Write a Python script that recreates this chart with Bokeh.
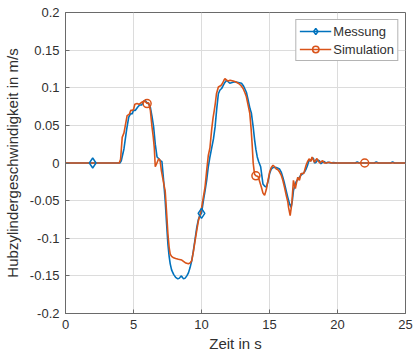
from bokeh.plotting import figure
from bokeh.models import (ColumnDataSource, FixedTicker, CustomJSTickFormatter,
                          Legend, LegendItem, Range1d)
from bokeh.embed import file_html
from bokeh.resources import INLINE

# ---------------- data ----------------
t_mess = [0, 4.0, 4.1, 4.3, 4.5, 4.65, 4.8, 4.9, 5.0, 5.14, 5.3, 5.45, 5.6, 5.75, 5.85, 5.95,
          6.1, 6.24, 6.36, 6.48, 6.6, 6.73, 6.85, 6.97, 7.09, 7.2, 7.33, 7.43, 7.53, 7.62, 7.7,
          7.8, 7.95, 8.1, 8.26, 8.38, 8.5, 8.6, 8.68, 8.8, 8.92, 9.04, 9.16, 9.28, 9.4, 9.52,
          9.65, 9.77, 9.89, 10.0, 10.14, 10.26, 10.38, 10.5, 10.62, 10.75, 10.88, 11.0, 11.12,
          11.24, 11.36, 11.48, 11.6, 11.72, 11.84, 11.96, 12.08, 12.25, 12.45, 12.7, 12.94,
          13.1, 13.3, 13.45, 13.57, 13.67, 13.8, 13.91, 14.0, 14.1, 14.2, 14.35, 14.52, 14.65,
          14.77, 14.9, 15.01, 15.13, 15.26, 15.5, 15.74, 15.86, 15.98, 16.1, 16.23, 16.35,
          16.47, 16.59, 16.68, 16.76, 16.86, 16.96, 17.08, 17.2, 17.32, 17.45, 17.57, 17.69,
          17.78, 17.86, 17.95, 18.05, 18.14, 18.23, 18.32, 18.42, 18.54, 18.66, 18.78, 18.91,
          19.03, 19.15, 19.3, 19.5, 19.7, 20.0, 21.3, 21.45, 21.6, 22.7, 22.85, 23.0, 23.9,
          24.05, 24.2, 25.0]
v_mess = [0, 0, 0.003, 0.019, 0.045, 0.061, 0.066, 0.065, 0.07, 0.07, 0.074, 0.077, 0.077,
          0.082, 0.083, 0.081, 0.079, 0.074, 0.062, 0.048, 0.025, 0.008, 0.006, 0.003, 0.002,
          -0.02, -0.05, -0.08, -0.108, -0.124, -0.134, -0.142, -0.148, -0.152, -0.154, -0.153,
          -0.15, -0.152, -0.154, -0.153, -0.15, -0.146, -0.139, -0.13, -0.117, -0.102, -0.086,
          -0.075, -0.069, -0.067, -0.05, -0.037, -0.023, -0.005, 0.008, 0.02, 0.032, 0.048,
          0.072, 0.092, 0.097, 0.099, 0.103, 0.107, 0.11, 0.108, 0.106, 0.107, 0.108, 0.107,
          0.106, 0.102, 0.094, 0.082, 0.072, 0.066, 0.048, 0.03, 0.018, 0.008, 0.002, -0.005,
          -0.028, -0.031, -0.032, -0.024, -0.014, -0.008, -0.006, -0.006, -0.008, -0.012,
          -0.019, -0.027, -0.037, -0.046, -0.054, -0.059, -0.05, -0.037, -0.03, -0.025, -0.022,
          -0.019, -0.016, -0.014, -0.012, -0.008, -0.004, 0.001, 0.004, 0.003, 0.007, 0.006,
          0.0, 0.001, 0.004, 0.003, -0.001, 0.001, 0.002, 0.0, 0.001, 0.0, 0.0005, 0.0, 0.0,
          0.0015, 0.0, 0.0, 0.0015, 0.0, 0.0, 0.0015, 0.0, 0.0]

t_sim = [0, 3.95, 4.05, 4.17, 4.3, 4.45, 4.53, 4.7, 4.8, 4.9, 5.0, 5.1, 5.26, 5.4, 5.55, 5.75,
         5.9, 6.0, 6.12, 6.24, 6.36, 6.45, 6.53, 6.6, 6.7, 6.85, 6.95, 7.05, 7.15, 7.25, 7.33,
         7.43, 7.53, 7.62, 7.7, 7.8, 7.95, 8.1, 8.3, 8.55, 8.7, 8.85, 9.04, 9.16, 9.28, 9.4,
         9.53, 9.65, 9.77, 9.9, 10.01, 10.13, 10.26, 10.38, 10.5, 10.62, 10.75, 10.85, 10.94,
         11.02, 11.1, 11.24, 11.43, 11.55, 11.65, 11.72, 11.85, 11.97, 12.1, 12.33, 12.5, 12.7,
         12.9, 13.06, 13.2, 13.3, 13.45, 13.55, 13.65, 13.72, 13.8, 13.9, 14.0, 14.16, 14.28,
         14.4, 14.52, 14.64, 14.77, 14.89, 15.01, 15.13, 15.26, 15.38, 15.5, 15.62, 15.74,
         15.86, 15.98, 16.1, 16.23, 16.35, 16.4, 16.52, 16.64, 16.76, 16.9, 17.0, 17.08, 17.2,
         17.32, 17.52, 17.69, 17.8, 17.93, 18.03, 18.13, 18.22, 18.3, 18.4, 18.49, 18.6, 18.71,
         18.81, 18.91, 19.03, 19.15, 19.4, 19.6, 25.0]
v_sim = [0, 0, 0.005, 0.034, 0.04, 0.055, 0.063, 0.065, 0.07, 0.07, 0.071, 0.078, 0.079,
         0.078, 0.08, 0.082, 0.081, 0.079, 0.08, 0.07, 0.048, 0.035, 0.02, -0.005, -0.001,
         0.0056, 0.004, -0.01, -0.02, -0.03, -0.037, -0.065, -0.094, -0.112, -0.121, -0.124,
         -0.126, -0.127, -0.128, -0.129, -0.131, -0.133, -0.134, -0.133, -0.13, -0.118, -0.103,
         -0.09, -0.077, -0.068, -0.059, -0.046, -0.032, -0.01, 0.01, 0.02, 0.045, 0.06, 0.07,
         0.08, 0.092, 0.101, 0.103, 0.106, 0.11, 0.112, 0.11, 0.109, 0.11, 0.109, 0.108, 0.106,
         0.103, 0.099, 0.093, 0.088, 0.075, 0.066, 0.045, 0.026, 0.0, -0.015, -0.017, -0.018,
         -0.025, -0.032, -0.04, -0.043, -0.035, -0.023, -0.012, -0.006, -0.003, -0.005, -0.008,
         -0.009, -0.012, -0.016, -0.023, -0.032, -0.043, -0.052, -0.059, -0.07, -0.054, -0.023,
         -0.034, -0.025, -0.019, -0.023, -0.014, -0.014, -0.003, 0.002, 0.0056, 0.002, 0.008,
         0.004, 0.001, 0.004, 0.006, 0.002, 0.0, 0.002, 0.003, 0.0, 0.0, 0.001, 0.0, 0.0]

t_mark_mess = [2, 10]
v_mark_mess = [0, -0.067]
t_mark_sim = [6, 14, 22]
v_mark_sim = [0.079, -0.017, 0]

x_ticks = [0, 5, 10, 15, 20, 25]
y_ticks = [-0.2, -0.15, -0.1, -0.05, 0, 0.05, 0.1, 0.15, 0.2]
x_label = "Zeit in s"
y_label = "Hubzylindergeschwindigkeit in m/s"
series_names = ["Messung", "Simulation"]

# ---------------- styling ----------------
BLUE = "#0072BD"
ORANGE = "#D95319"
TXT = "#303030"
AXC = "#6a6a6a"
FONT = "Liberation Sans"

p = figure(width=415, height=354, output_backend="svg", toolbar_location=None,
           x_range=Range1d(0, 25), y_range=Range1d(-0.2, 0.2),
           min_border_left=63, min_border_right=10, min_border_top=12, min_border_bottom=41)
p.background_fill_color = "white"
p.border_fill_color = "white"
p.outline_line_color = AXC
p.outline_line_width = 1

for ax in (p.xaxis[0], p.yaxis[0]):
    ax.axis_line_color = AXC
    ax.major_tick_line_color = AXC
    ax.major_tick_in = 4
    ax.major_tick_out = 0
    ax.minor_tick_line_color = None
    ax.major_label_text_font = FONT
    ax.major_label_text_font_size = "13px"
    ax.major_label_text_color = TXT
    ax.axis_label_text_font = FONT
    ax.axis_label_text_font_size = "15px"
    ax.axis_label_text_font_style = "normal"
    ax.axis_label_text_color = TXT

p.xaxis.ticker = FixedTicker(ticks=x_ticks)
p.yaxis.ticker = FixedTicker(ticks=y_ticks)
p.xaxis.formatter = CustomJSTickFormatter(code="return String(Number(tick.toFixed(2)));")
p.yaxis.formatter = CustomJSTickFormatter(code="return String(Number(tick.toFixed(2)));")
p.xaxis.major_label_standoff = 6
p.yaxis.major_label_standoff = 6
p.xaxis.axis_label_standoff = 3
p.yaxis.axis_label_standoff = 6
p.xaxis.axis_label = x_label
p.yaxis.axis_label = y_label

p.grid.grid_line_color = "#dcdcdc"
p.grid.grid_line_width = 1

src_m = ColumnDataSource(dict(t=t_mess, v=v_mess))
src_s = ColumnDataSource(dict(t=t_sim, v=v_sim))
mk_m = ColumnDataSource(dict(t=t_mark_mess, v=v_mark_mess))
mk_s = ColumnDataSource(dict(t=t_mark_sim, v=v_mark_sim))

l_m = p.line("t", "v", source=src_m, line_color=BLUE, line_width=1.6)
l_s = p.line("t", "v", source=src_s, line_color=ORANGE, line_width=1.6)
s_m = p.scatter("t", "v", source=mk_m, marker="diamond", size=10, fill_color=None,
                line_color=BLUE, line_width=1.5)
s_s = p.scatter("t", "v", source=mk_s, marker="circle", size=8, fill_color=None,
                line_color=ORANGE, line_width=1.5)

legend = Legend(items=[LegendItem(label=series_names[0], renderers=[l_m, s_m]),
                       LegendItem(label=series_names[1], renderers=[l_s, s_s])],
                location="top_right")
legend.margin = 7
legend.padding = 3
legend.spacing = 2
legend.glyph_width = 32
legend.glyph_height = 16
legend.label_standoff = 2
legend.label_text_font = FONT
legend.label_text_font_size = "13px"
legend.label_text_color = TXT
legend.border_line_color = AXC
legend.border_line_width = 1
legend.background_fill_color = "white"
legend.background_fill_alpha = 1.0
p.add_layout(legend, "center")

open("out.html", "w").write(file_html(p, INLINE))
